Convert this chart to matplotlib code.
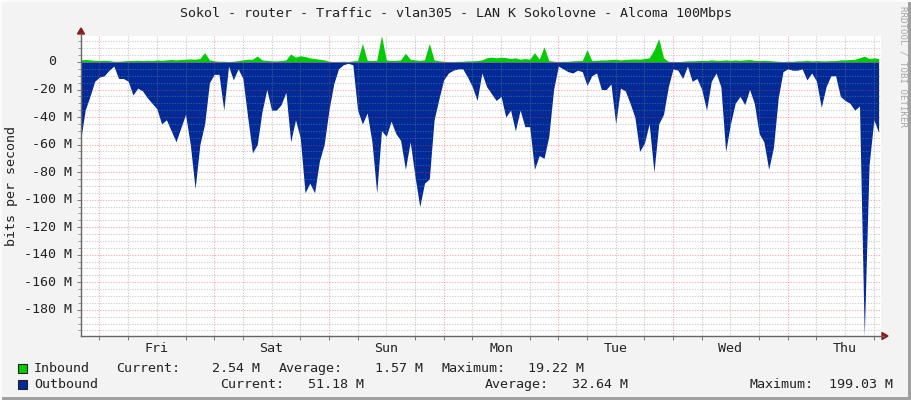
#! /usr/bin/env python3
#
# rrdtool style weekly traffic graph, vlan305
#
import numpy as np
import matplotlib
matplotlib.use('Agg')
import matplotlib.pyplot as plt
from matplotlib.patches import Polygon, Rectangle
from matplotlib.lines import Line2D
from matplotlib.transforms import blended_transform_factory

# hours from Fri 00:00, one sample per hour
hours = np.arange(-4, 164)

# Mbit/s
inbound = [1.5, 1.8, 1.5, 1.2,
           1.0, 1.2, 1.0, 0.5, 0.5, 0.8, 1.0, 1.0, 1.2, 1.0,
           1.2, 1.0, 1.5, 1.2, 1.5, 1.8, 1.5, 1.8, 2.0, 2.2,
           2.0, 2.5, 6.8, 1.5, 0.8, 0.5, 0.5, 0.3, 0.5, 1.0,
           1.5, 2.0, 2.0, 4.3, 1.5, 1.2, 0.8, 0.8, 1.0, 1.5,
           5.8, 3.5, 4.5, 4.0, 3.0, 2.5, 2.0, 1.5, 0.5, 0.3,
           0.3, 0.5, 0.3, 0.8, 1.0, 13.5, 1.2, 1.0, 1.2, 19.22,
           1.5, 1.0, 1.2, 1.5, 6.3, 2.0, 1.5, 1.2, 1.5, 13.5,
           1.5, 0.8, 0.5, 0.3, 0.3, 0.5, 0.5, 0.8, 0.8, 1.0,
           1.5, 3.0, 3.5, 3.0, 3.5, 3.2, 2.5, 3.0, 2.0, 2.5,
           2.0, 6.8, 2.0, 11.0, 1.0, 0.5, 0.3, 0.5, 0.5, 0.8,
           1.0, 1.0, 9.0, 1.0, 1.2, 1.5, 1.5, 1.8, 2.0, 1.5,
           1.8, 2.0, 2.2, 2.0, 2.5, 3.0, 8.7, 17.0, 3.0, 0.5,
           0.3, 0.3, 0.5, 0.8, 0.8, 1.0, 1.2, 1.0, 1.5, 1.2,
           1.2, 1.5, 1.2, 1.5, 1.2, 1.5, 1.8, 1.2, 1.0, 1.2,
           1.0, 0.8, 0.5, 0.3, 0.5, 0.5, 0.8, 0.8, 1.2, 0.8,
           1.0, 0.8, 0.8, 1.0, 1.0, 1.5, 1.5, 1.8, 2.0, 3.0,
           4.2, 2.5, 3.0, 2.54]

outbound = [58, 35, 25, 14,
            11, 10, 6, 3, 12, 12, 14, 24, 19, 21,
            26, 30, 34, 45, 42, 50, 58, 48, 38, 60,
            92, 60, 45, 15, 9, 9, 35, 3, 13, 5,
            12, 40, 66, 60, 36, 20, 35, 35, 31, 22,
            58, 42, 55, 95, 88, 95, 72, 60, 35, 16,
            5, 2, 1, 2, 35, 45, 37, 58, 95, 50,
            54, 43, 52, 57, 78, 58, 83, 105, 88, 85,
            42, 27, 13, 8, 6, 5, 5, 11, 18, 28,
            8, 18, 23, 28, 25, 40, 35, 50, 35, 47,
            47, 78, 68, 70, 54, 20, 3, 5, 7, 8,
            6, 7, 17, 10, 8, 20, 20, 16, 45, 19,
            21, 30, 40, 65, 59, 45, 80, 45, 38, 18,
            5, 6, 12, 3, 14, 12, 20, 35, 14, 8,
            18, 65, 45, 30, 25, 31, 20, 30, 52, 58,
            78, 62, 26, 7, 5, 6, 6, 5, 13, 8,
            14, 33, 18, 10, 10, 25, 28, 30, 35, 32,
            199.03, 75, 42, 51.18]

days = ['Fri', 'Sat', 'Sun', 'Mon', 'Tue', 'Wed', 'Thu']
yticks = [0, -20, -40, -60, -80, -100, -120, -140, -160, -180]

legend_rows = [
    ('Inbound', '#00CC00', [('Current:', 116, '2.54 M', 260),
                            ('Average:', 279, '1.57 M', 423),
                            ('Maximum:', 441, '19.22 M', 584)]),
    ('Outbound', '#002A97', [('Current:', 220, '51.18 M', 364),
                             ('Average:', 485, '32.64 M', 628),
                             ('Maximum:', 750, '199.03 M', 893)]),
]

W, H = 911, 400
MONO = 'DejaVu Sans Mono'
FS = 9.6

fig = plt.figure(figsize=(W / 100, H / 100), dpi=100, facecolor='#f3f3f3')

def fx(x):
    return x / W

def fy(y):
    return 1 - y / H

ax = fig.add_axes([fx(81), fy(336), 800 / W, 300.5 / H])
ax.set_facecolor('white')
ax.set_xlim(-3.87, 163.5)
ax.set_ylim(-199.03, 19.22)
for s in ax.spines.values():
    s.set_visible(False)

h = np.array(hours, dtype=float)
ax.fill_between(h, 0, inbound, color='#00CC00', lw=0, zorder=2)
ax.fill_between(h, 0, -np.array(outbound), color='#002A97', lw=0, zorder=2)

# grid on top, semi transparent like rrdtool
gray = (0.55, 0.55, 0.55, 0.4)
red = (0.9, 0.25, 0.25, 0.4)
for y in np.arange(-195, 20, 5):
    ax.axhline(y, color=red if y % 20 == 0 else gray, lw=0.8,
               ls=(0, (1.2, 1.2)), zorder=3)
for x in range(0, 164, 6):
    ax.axvline(x, color=red if x % 24 == 0 else gray, lw=0.8,
               ls=(0, (1.2, 1.2)), zorder=3)

# ticks
ax.set_xticks([12 + 24 * i for i in range(len(days))])
ax.set_xticklabels(days, fontfamily=MONO, fontsize=FS, color='#222222')
ax.tick_params(axis='x', length=0, pad=4)
ax.set_xticks(np.arange(0, 164, 6), minor=True)
ax.tick_params(axis='x', which='minor', length=3, width=0.7, color='#777777')
ax.set_yticks(yticks)
ax.set_yticklabels([])
ax.tick_params(axis='y', length=3, width=0.7, color='#777777')
ax.set_yticks(np.arange(-195, 20, 5), minor=True)
ax.tick_params(axis='y', which='minor', length=2, width=0.7, color='#999999')

tr = blended_transform_factory(fig.transFigure, ax.transData)
for v in yticks:
    lab = '0' if v == 0 else '-%d M' % (-v)
    xr = 56 if v == 0 else 72
    fig.text(fx(xr), v, lab, transform=tr, ha='right', va='center',
             fontfamily=MONO, fontsize=FS, color='#222222')

# axis lines with arrows
fig.add_artist(Line2D([fx(81), fx(81)], [fy(336), fy(33)], color='#666666', lw=1))
fig.add_artist(Line2D([fx(81), fx(884)], [fy(336), fy(336)], color='#666666', lw=1))
fig.add_artist(Polygon([(fx(77.5), fy(34)), (fx(84.5), fy(34)), (fx(81), fy(28))],
                       closed=True, color='#8b1a1a'))
fig.add_artist(Polygon([(fx(882), fy(332.5)), (fx(882), fy(339.5)), (fx(888), fy(336))],
                       closed=True, color='#8b1a1a'))

fig.text(fx(455.5), fy(14), 'Sokol - router - Traffic - vlan305 - LAN K Sokolovne - Alcoma 100Mbps',
         ha='center', va='center', fontfamily=MONO, fontsize=FS, color='#222222')
fig.text(fx(12), fy(186), 'bits per second', rotation=90, ha='center', va='center',
         fontfamily=MONO, fontsize=FS, color='#222222')
fig.text(fx(903), fy(6), 'RRDTOOL / TOBI OETIKER', rotation=270, ha='center', va='top',
         fontfamily=MONO, fontsize=6.6, color='#a8a8a8')

for i, (name, col, cols) in enumerate(legend_rows):
    yc = 368 + 16 * i
    yb = yc + 4  # text baseline
    fig.add_artist(Rectangle((fx(18), fy(yc + 5)), 9 / W, 9 / H, facecolor=col,
                             edgecolor='#222222', lw=0.8))
    fig.text(fx(34), fy(yb), name, ha='left', va='baseline', fontfamily=MONO,
             fontsize=FS, color='#222222')
    for lab, xl, val, xr in cols:
        fig.text(fx(xl), fy(yb), lab, ha='left', va='baseline', fontfamily=MONO,
                 fontsize=FS, color='#222222')
        fig.text(fx(xr), fy(yb), val, ha='right', va='baseline', fontfamily=MONO,
                 fontsize=FS, color='#222222')

# frame shade
fig.add_artist(Rectangle((fx(908), 0), 3 / W, 1, facecolor='#a0a0a0', lw=0))
fig.add_artist(Rectangle((0, 0), 1, 3 / H, facecolor='#a0a0a0', lw=0))
fig.add_artist(Rectangle((0, 0), 2 / W, 1, facecolor='#fbfbfb', lw=0))
fig.add_artist(Rectangle((0, fy(2)), 1, 2 / H, facecolor='#fbfbfb', lw=0))

fig.savefig('out.png', dpi=100, facecolor=fig.get_facecolor())
